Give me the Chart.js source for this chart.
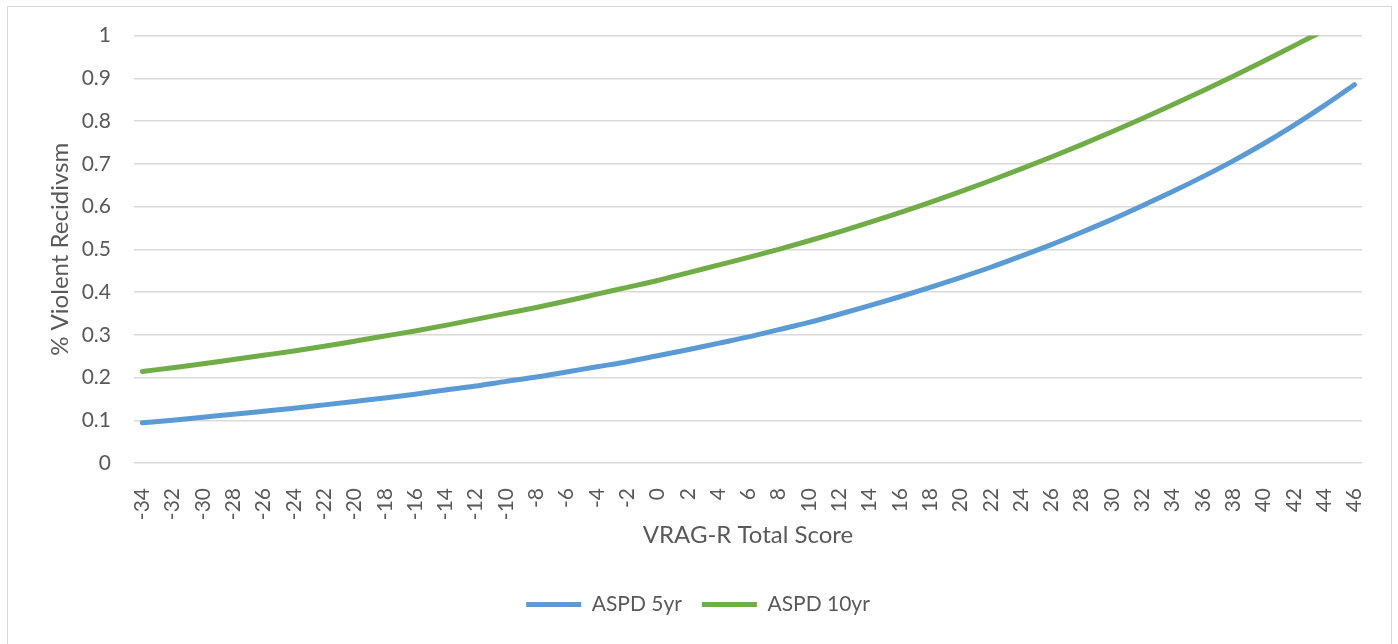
<!DOCTYPE html>
<html>
<head>
<meta charset="utf-8">
<title>VRAG-R</title>
<script src="https://cdn.jsdelivr.net/npm/chart.js@4"></script>
<style>
    html, body { margin: 0; padding: 0; background: #ffffff; }
    #frame {
        position: absolute; left: 7px; top: 6px;
        width: 1383px; height: 700px;
        border: 1px solid #d9d9d9;
    }
    #trendChart { position: absolute; left: 0; top: 0; }
</style>
</head>
<body>
<div id="frame"></div>
<canvas id="trendChart" width="1398" height="644"></canvas>
<script>
// 分數 (x 軸)
const scores = [-34, -32, -30, -28, -26, -24, -22, -20, -18, -16, -14, -12, -10, -8, -6, -4, -2, 0,
    2, 4, 6, 8, 10, 12, 14, 16, 18, 20, 22, 24, 26, 28, 30, 32, 34, 36, 38, 40, 42, 44, 46];

// ASPD 5yr
const aspd5yr = [0.094, 0.100, 0.107, 0.114, 0.121, 0.128, 0.136, 0.144, 0.152, 0.161, 0.171,
    0.180, 0.191, 0.201, 0.213, 0.225, 0.237, 0.251, 0.265, 0.280, 0.295, 0.312, 0.329, 0.348,
    0.368, 0.389, 0.411, 0.434, 0.458, 0.484, 0.511, 0.540, 0.570, 0.602, 0.635, 0.670, 0.707,
    0.747, 0.790, 0.836, 0.885];

// ASPD 10yr
const aspd10yr = [0.214, 0.223, 0.232, 0.242, 0.252, 0.262, 0.273, 0.285, 0.297, 0.309, 0.322,
    0.336, 0.350, 0.364, 0.379, 0.395, 0.411, 0.427, 0.445, 0.463, 0.481, 0.500, 0.520, 0.541,
    0.563, 0.586, 0.610, 0.635, 0.661, 0.688, 0.716, 0.745, 0.775, 0.806, 0.838, 0.871, 0.905,
    0.940, 0.976, 1.012, 1.048];

const seriesNames = ['ASPD 5yr', 'ASPD 10yr'];
const xTitle = 'VRAG-R Total Score';
const yTitle = '% Violent Recidivsm';

document.addEventListener('DOMContentLoaded', function() {
    initializeTimeChart();
});

function initializeTimeChart() {
    const ctx = document.getElementById('trendChart').getContext('2d');
    const textColor = '#595959';
    const fontFamily = 'Lato, "Open Sans", sans-serif';

    const chartConfig = {
        type: 'line',
        data: {
            labels: scores,
            datasets: [{
                label: seriesNames[0],
                data: aspd5yr,
                borderColor: '#5b9bd5',
                backgroundColor: '#5b9bd5',
                borderWidth: 5,
                borderCapStyle: 'round',
                pointRadius: 0,
                cubicInterpolationMode: 'monotone',
                clip: 0
            }, {
                label: seriesNames[1],
                data: aspd10yr,
                borderColor: '#70ad47',
                backgroundColor: '#70ad47',
                borderWidth: 5,
                borderCapStyle: 'round',
                pointRadius: 0,
                cubicInterpolationMode: 'monotone',
                clip: 0
            }]
        },
        options: {
            responsive: false,
            animation: false,
            layout: {
                padding: { left: 34, right: 36, top: 35, bottom: 19 }
            },
            plugins: {
                tooltip: { enabled: false },
                legend: {
                    position: 'bottom',
                    labels: {
                        usePointStyle: true,
                        pointStyle: 'line',
                        pointStyleWidth: 55,
                        padding: 20,
                        color: textColor,
                        font: { family: fontFamily, size: 21 }
                    }
                }
            },
            scales: {
                x: {
                    type: 'linear',
                    min: -34.55,
                    max: 46.5,
                    afterFit: function(scale) { scale.height = 111; },
                    grid: { display: false },
                    border: { display: false },
                    ticks: {
                        stepSize: 2,
                        includeBounds: false,
                        autoSkip: false,
                        minRotation: 90,
                        maxRotation: 90,
                        padding: 17,
                        color: textColor,
                        font: { family: fontFamily, size: 21 },
                        callback: function(value) { return String(value); }
                    },
                    title: {
                        display: true,
                        text: xTitle,
                        color: textColor,
                        font: { family: fontFamily, size: 24 },
                        padding: { top: 0, bottom: 24 }
                    }
                },
                y: {
                    min: 0,
                    max: 1,
                    afterFit: function(scale) { scale.width = 100; },
                    grid: {
                        color: '#d9d9d9',
                        lineWidth: 1.5,
                        drawTicks: false
                    },
                    border: { display: false },
                    ticks: {
                        stepSize: 0.1,
                        padding: 23,
                        color: textColor,
                        font: { family: fontFamily, size: 21 },
                        callback: function(value) { return String(Math.round(value * 10) / 10); }
                    },
                    title: {
                        display: true,
                        text: yTitle,
                        color: textColor,
                        font: { family: fontFamily, size: 24 },
                        padding: { top: 12, bottom: 0 }
                    }
                }
            }
        }
    };

    const chart = new Chart(ctx, chartConfig);
}
</script>
</body>
</html>
